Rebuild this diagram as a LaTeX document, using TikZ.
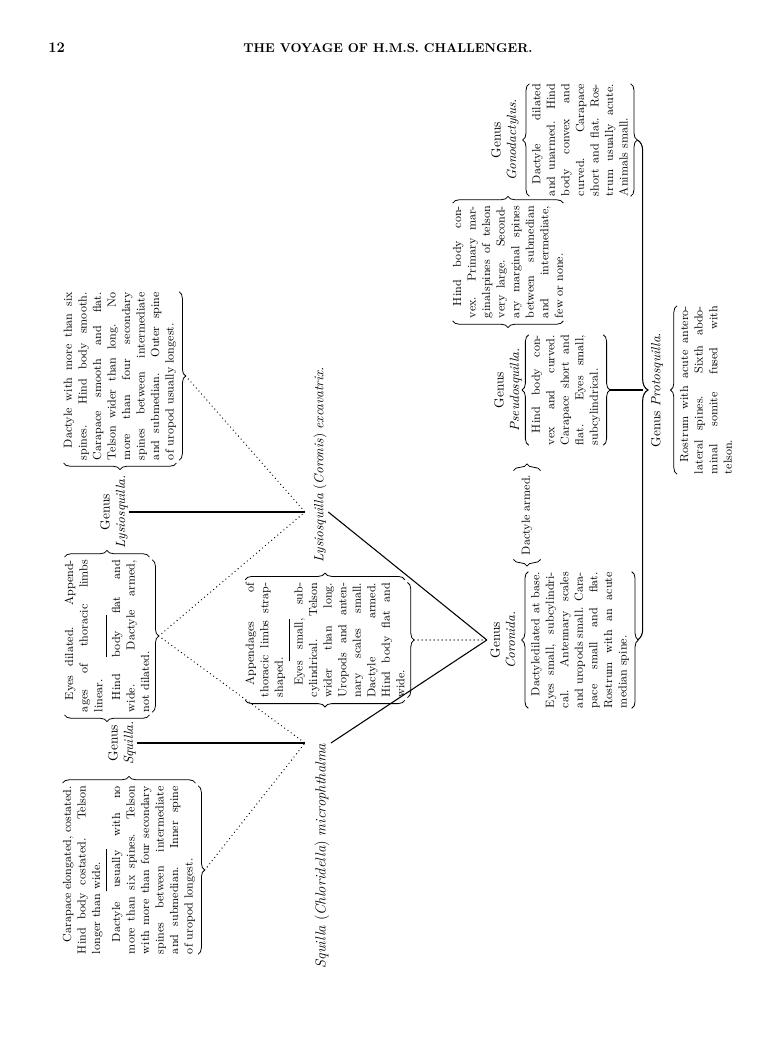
\documentclass[tikz,border=0pt]{standalone}
\usetikzlibrary{decorations.pathreplacing,calc}
\newcommand\ind{\noindent\hspace*{9pt}}
\newcommand\seprule{\par\nointerlineskip\vspace{2.5pt}\hbox to\hsize{\hfil\rule{32pt}{0.5pt}\hfil}\nointerlineskip\vspace{4pt}}
\tolerance=10000
\hbadness=10000
\begin{document}
\begin{tikzpicture}[x=0.75pt,y=-0.75pt,
  body/.style={rotate=90,inner sep=0pt,font=\fontsize{8.8}{10.9}\selectfont},
  para/.style={body,align=justify},
  lbl/.style={rotate=90,inner sep=1pt,align=center,font=\fontsize{10}{11.5}\selectfont},
  spec/.style={rotate=90,inner sep=1pt,font=\fontsize{10}{12}\selectfont},
  brc/.style={decorate,decoration={brace,amplitude=5pt},line width=0.6pt},
  bigbrc/.style={decorate,decoration={brace,amplitude=8pt},line width=0.8pt},
  link/.style={line width=0.8pt},
  dots/.style={line width=1pt,dash pattern=on 0pt off 3pt,line cap=round},
]
\useasboundingbox (0,0) rectangle (776,1050);
% header
\node[anchor=base west,inner sep=0pt,font=\bfseries\fontsize{11}{13}\selectfont] (pg) at (48,52) {12};
\node[anchor=base,inner sep=0pt,font=\bfseries\fontsize{9.6}{12}\selectfont] (title) at (388,52) {THE VOYAGE OF H.M.S. CHALLENGER.};

% ---- upper part
\node[para,text width=126pt] (A) at (129,870) {\ind Carapace elongated, costated.\break Hind body costated. Telson\break longer than wide.\seprule\ind Dactyle usually with no\break more than six spines. Telson\break with more than four secondary\break spines between intermediate\break and submedian. Inner spine\break of uropod longest.};
\node[lbl] (Sq) at (122,743) {Genus\\\textit{Squilla.}};
\node[para,text width=114pt] (B) at (107,636) {\ind Eyes dilated. Append-\break ages of thoracic limbs\break linear.\seprule\ind Hind body flat and\break wide. Dactyle armed,\break not dilated.};
\node[lbl] (Ly) at (114,512) {Genus\\\textit{Lysiosquilla.}};
\node[para,text width=126pt] (C) at (120,376) {\ind Dactyle with more than six\break spines. Hind body smooth.\break Carapace smooth and flat.\break Telson wider than long. No\break more than four secondary\break spines between intermediate\break and submedian. Outer spine\break of uropod usually longest.};

\node[spec,font=\fontsize{11}{13}\selectfont] (mic) at (322,856) {\textit{Squilla} (\textit{Chloridella}) \textit{microphthalma}};
\node[spec] (exc) at (320,465) {\textit{Lysiosquilla} (\textit{Coronis}) \textit{excavatrix.}};
\node[para,text width=86pt] (H) at (325,640) {\ind Appendages of\break thoracic limbs strap-\break shaped.\seprule\ind Eyes small, sub-\break cylindrical. Telson\break wider than long.\break Uropods and anten-\break nary scales small.\break Dactyle armed.\break Hind body flat and\break wide.};

% ---- lower part
\node[lbl] (Cor) at (503,640) {Genus\\\textit{Coronida.}};
\node[para,text width=102pt] (G) at (580,640) {\ind Dactyle\hspace{0.6pt}dilated at base.\break Eyes small, subcylindri-\break cal. Antennary scales\break and uropods small. Cara-\break pace small and flat.\break Rostrum with an acute\break median spine.};
\node[body,inner xsep=1pt,inner ysep=6pt] (F) at (527,515) {Dactyle armed.};
\node[lbl] (Ps) at (508,390) {Genus\\\textit{Pseudosquilla.}};
\node[para,text width=82.5pt] (E) at (566,390) {\ind Hind body con-\break vex and curved.\break Carapace short and\break flat. Eyes small,\break subcylindrical.};
\node[para,text width=84pt] (D) at (508,262) {\ind Hind body con-\break vex. Primary mar-\break ginal\hspace{0.6pt}spines of telson\break very large. Second-\break ary marginal spines\break between submedian\break and intermediate,\break few or none.};
\node[lbl] (Go) at (505,140) {Genus\\\textit{Gonodactylus.}};
\node[para,text width=84pt] (Gb) at (580,140) {\ind Dactyle dilated\break and unarmed. Hind\break body convex and\break curved. Carapace\break short and flat. Ros-\break trum usually acute.\break Animals small.};
\node[para,text width=126pt] (Pb) at (706,390) {\ind Rostrum with acute antero-\break lateral spines. Sixth abdo-\break minal somite fused with\break telson.};

% ---- braces
% A
\draw[brc] ([yshift=2pt]A.north east) -- ([yshift=2pt]A.south east);
\draw[brc] ([xshift=2pt]A.south east) -- ([xshift=2pt]A.south west);
\coordinate (At) at ([xshift=7pt]A.south);
% B
\draw[brc] ([yshift=-2pt]B.south west) -- ([yshift=-2pt]B.north west);
\draw[brc] ([yshift=2pt]B.north east) -- ([yshift=2pt]B.south east);
\draw[brc] ([xshift=2pt]B.south east) -- ([xshift=2pt]B.south west);
\coordinate (Bt) at ([xshift=7pt]B.south);
% C
\draw[brc] ([yshift=-2pt]C.south west) -- ([yshift=-2pt]C.north west);
\draw[brc] ([xshift=2pt]C.south east) -- ([xshift=2pt]C.south west);
\coordinate (Ct) at ([xshift=7pt]C.south);
% H
\draw[brc] ([yshift=2pt]H.north east) -- ([yshift=2pt]H.south east);
\draw[brc] ([yshift=-2pt]H.south west) -- ([yshift=-2pt]H.north west);
\draw[brc] ([xshift=2pt]H.south east) -- ([xshift=2pt]H.south west);
\coordinate (Ht) at ([xshift=7pt]H.south);
% F
\draw[brc] ([yshift=2pt]F.north east) -- ([yshift=2pt]F.south east);
\draw[brc] ([yshift=-2pt]F.south west) -- ([yshift=-2pt]F.north west);
% G
\draw[brc] ([xshift=-2pt]G.north west) -- ([xshift=-2pt]G.north east);
\draw[brc] ([xshift=2pt]G.south east) -- ([xshift=2pt]G.south west);
\coordinate (Gt) at ([xshift=7pt]G.south);
% E
\draw[brc] ([xshift=-2pt]E.north west) -- ([xshift=-2pt]E.north east);
\draw[brc] ([xshift=2pt]E.south east) -- ([xshift=2pt]E.south west);
\coordinate (Et) at ([xshift=7pt]E.south);
% D
\draw[brc] ([yshift=2pt]D.north east) -- ([yshift=2pt]D.south east);
\draw[brc] ([yshift=-2pt]D.south west) -- ([yshift=-2pt]D.north west);
% Gonodactylus block
\draw[brc] ([xshift=-2pt]Gb.north west) -- ([xshift=-2pt]Gb.north east);
\draw[brc] ([xshift=2pt]Gb.south east) -- ([xshift=2pt]Gb.south west);
\coordinate (Gbt) at ([xshift=7pt]Gb.south);
% Protosquilla block
\draw[brc] ([xshift=-2pt]Pb.north west) -- ([xshift=-2pt]Pb.north east);

% big brace
\coordinate (bigbot) at (Gbt |- Gt);
\draw[bigbrc] (Gbt) -- (bigbot);
\coordinate (bigmid) at ($(Gbt)!0.5!(bigbot)$);
\coordinate (bigspine) at ([xshift=4pt]bigmid);
\node[lbl,inner sep=0pt,anchor=north] (Pro) at ([xshift=10pt]bigmid) {Genus \textit{Protosquilla.}};
\draw[link] (Et) -- (Et -| bigspine);

% ---- connectors
\coordinate (jm) at (305,743);
\coordinate (je) at (305,512);
\coordinate (apex) at ([xshift=-1.5pt]Cor.north);
\draw[link] (Sq.south) -- (jm);
\draw[link] (Ly.south) -- (je);
\draw[link] (je -| exc.south) -- (apex);
\draw[link] (jm -| mic.south) -- (apex);
\draw[dots] (At) -- (jm);
\draw[dots] (Bt) -- (jm);
\draw[dots] (Bt) -- (je);
\draw[dots] (Ct) -- (je);
\draw[dots] (Ht) -- (apex);
\end{tikzpicture}
\end{document}
